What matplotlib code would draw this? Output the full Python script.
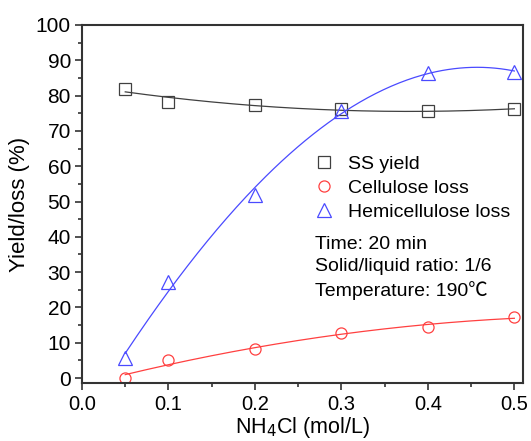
import numpy as np
import matplotlib
matplotlib.use("Agg")
import matplotlib.pyplot as plt
from matplotlib.ticker import MultipleLocator, FormatStrFormatter

plt.rcParams['font.family'] = ['Liberation Sans', 'DejaVu Sans']

conc = [0.05, 0.1, 0.2, 0.3, 0.4, 0.5]
ss_yield = [81.9, 78.3, 77.3, 76.1, 75.7, 76.1]
cellulose_loss = [0.1, 5.1, 8.1, 12.9, 14.4, 17.3]
hemi_loss = [5.7, 27.3, 51.8, 75.6, 86.5, 86.8]

fig = plt.figure(figsize=(5.31, 4.41), dpi=100)
ax = fig.add_axes([82/531, 1-383/441, (523-82)/531, (383-25)/441])

xs = np.linspace(conc[0], conc[-1], 200)
series = [
    (ss_yield, '#404040', 's', 8, 'SS yield', 2),
    (cellulose_loss, '#ff4040', 'o', 8, 'Cellulose loss', 2),
    (hemi_loss, '#4a4aff', '^', 10, 'Hemicellulose loss', 3),
]
for vals, col, mk, ms, lab, deg in series:
    p = np.polyfit(conc, vals, deg)
    ax.plot(xs, np.polyval(p, xs), color=col, lw=0.9)
    ax.plot(conc, vals, linestyle='none', marker=mk, ms=ms, mfc='none',
            mec=col, mew=0.9, label=lab)

ax.set_xlim(0, 0.51)
ax.set_ylim(-1.4, 100)
ax.xaxis.set_major_locator(MultipleLocator(0.1))
ax.xaxis.set_minor_locator(MultipleLocator(0.05))
ax.xaxis.set_major_formatter(FormatStrFormatter('%.1f'))
ax.yaxis.set_major_locator(MultipleLocator(10))
ax.yaxis.set_minor_locator(MultipleLocator(5))
ax.tick_params(which='both', direction='out', top=False, right=False,
               color='#333333', width=1.2)
ax.tick_params(which='major', length=5, labelsize=15)
ax.tick_params(axis='x', which='major', labelsize=14.5, pad=4)
ax.tick_params(axis='y', which='major', pad=3)
ax.tick_params(which='minor', length=3)
for s in ax.spines.values():
    s.set_color('#333333')
    s.set_linewidth(1.5)

ax.set_xlabel('NH$_4$Cl (mol/L)', fontsize=15.5, labelpad=0.5)
ax.set_ylabel('Yield/loss (%)', fontsize=16, labelpad=4)

leg = ax.legend(loc='upper left', bbox_to_anchor=(0.477, 0.685), frameon=False,
                fontsize=14, handletextpad=0.45, labelspacing=0.32,
                handlelength=1.5)

ax.text(0.528, 0.41, 'Time: 20 min\nSolid/liquid ratio: 1/6\nTemperature: 190\u2103',
        transform=ax.transAxes, fontsize=14, va='top', ha='left',
        linespacing=1.38, family=['Liberation Sans', 'Noto Sans CJK SC', 'DejaVu Sans'])

fig.savefig('out.png', dpi=100)
